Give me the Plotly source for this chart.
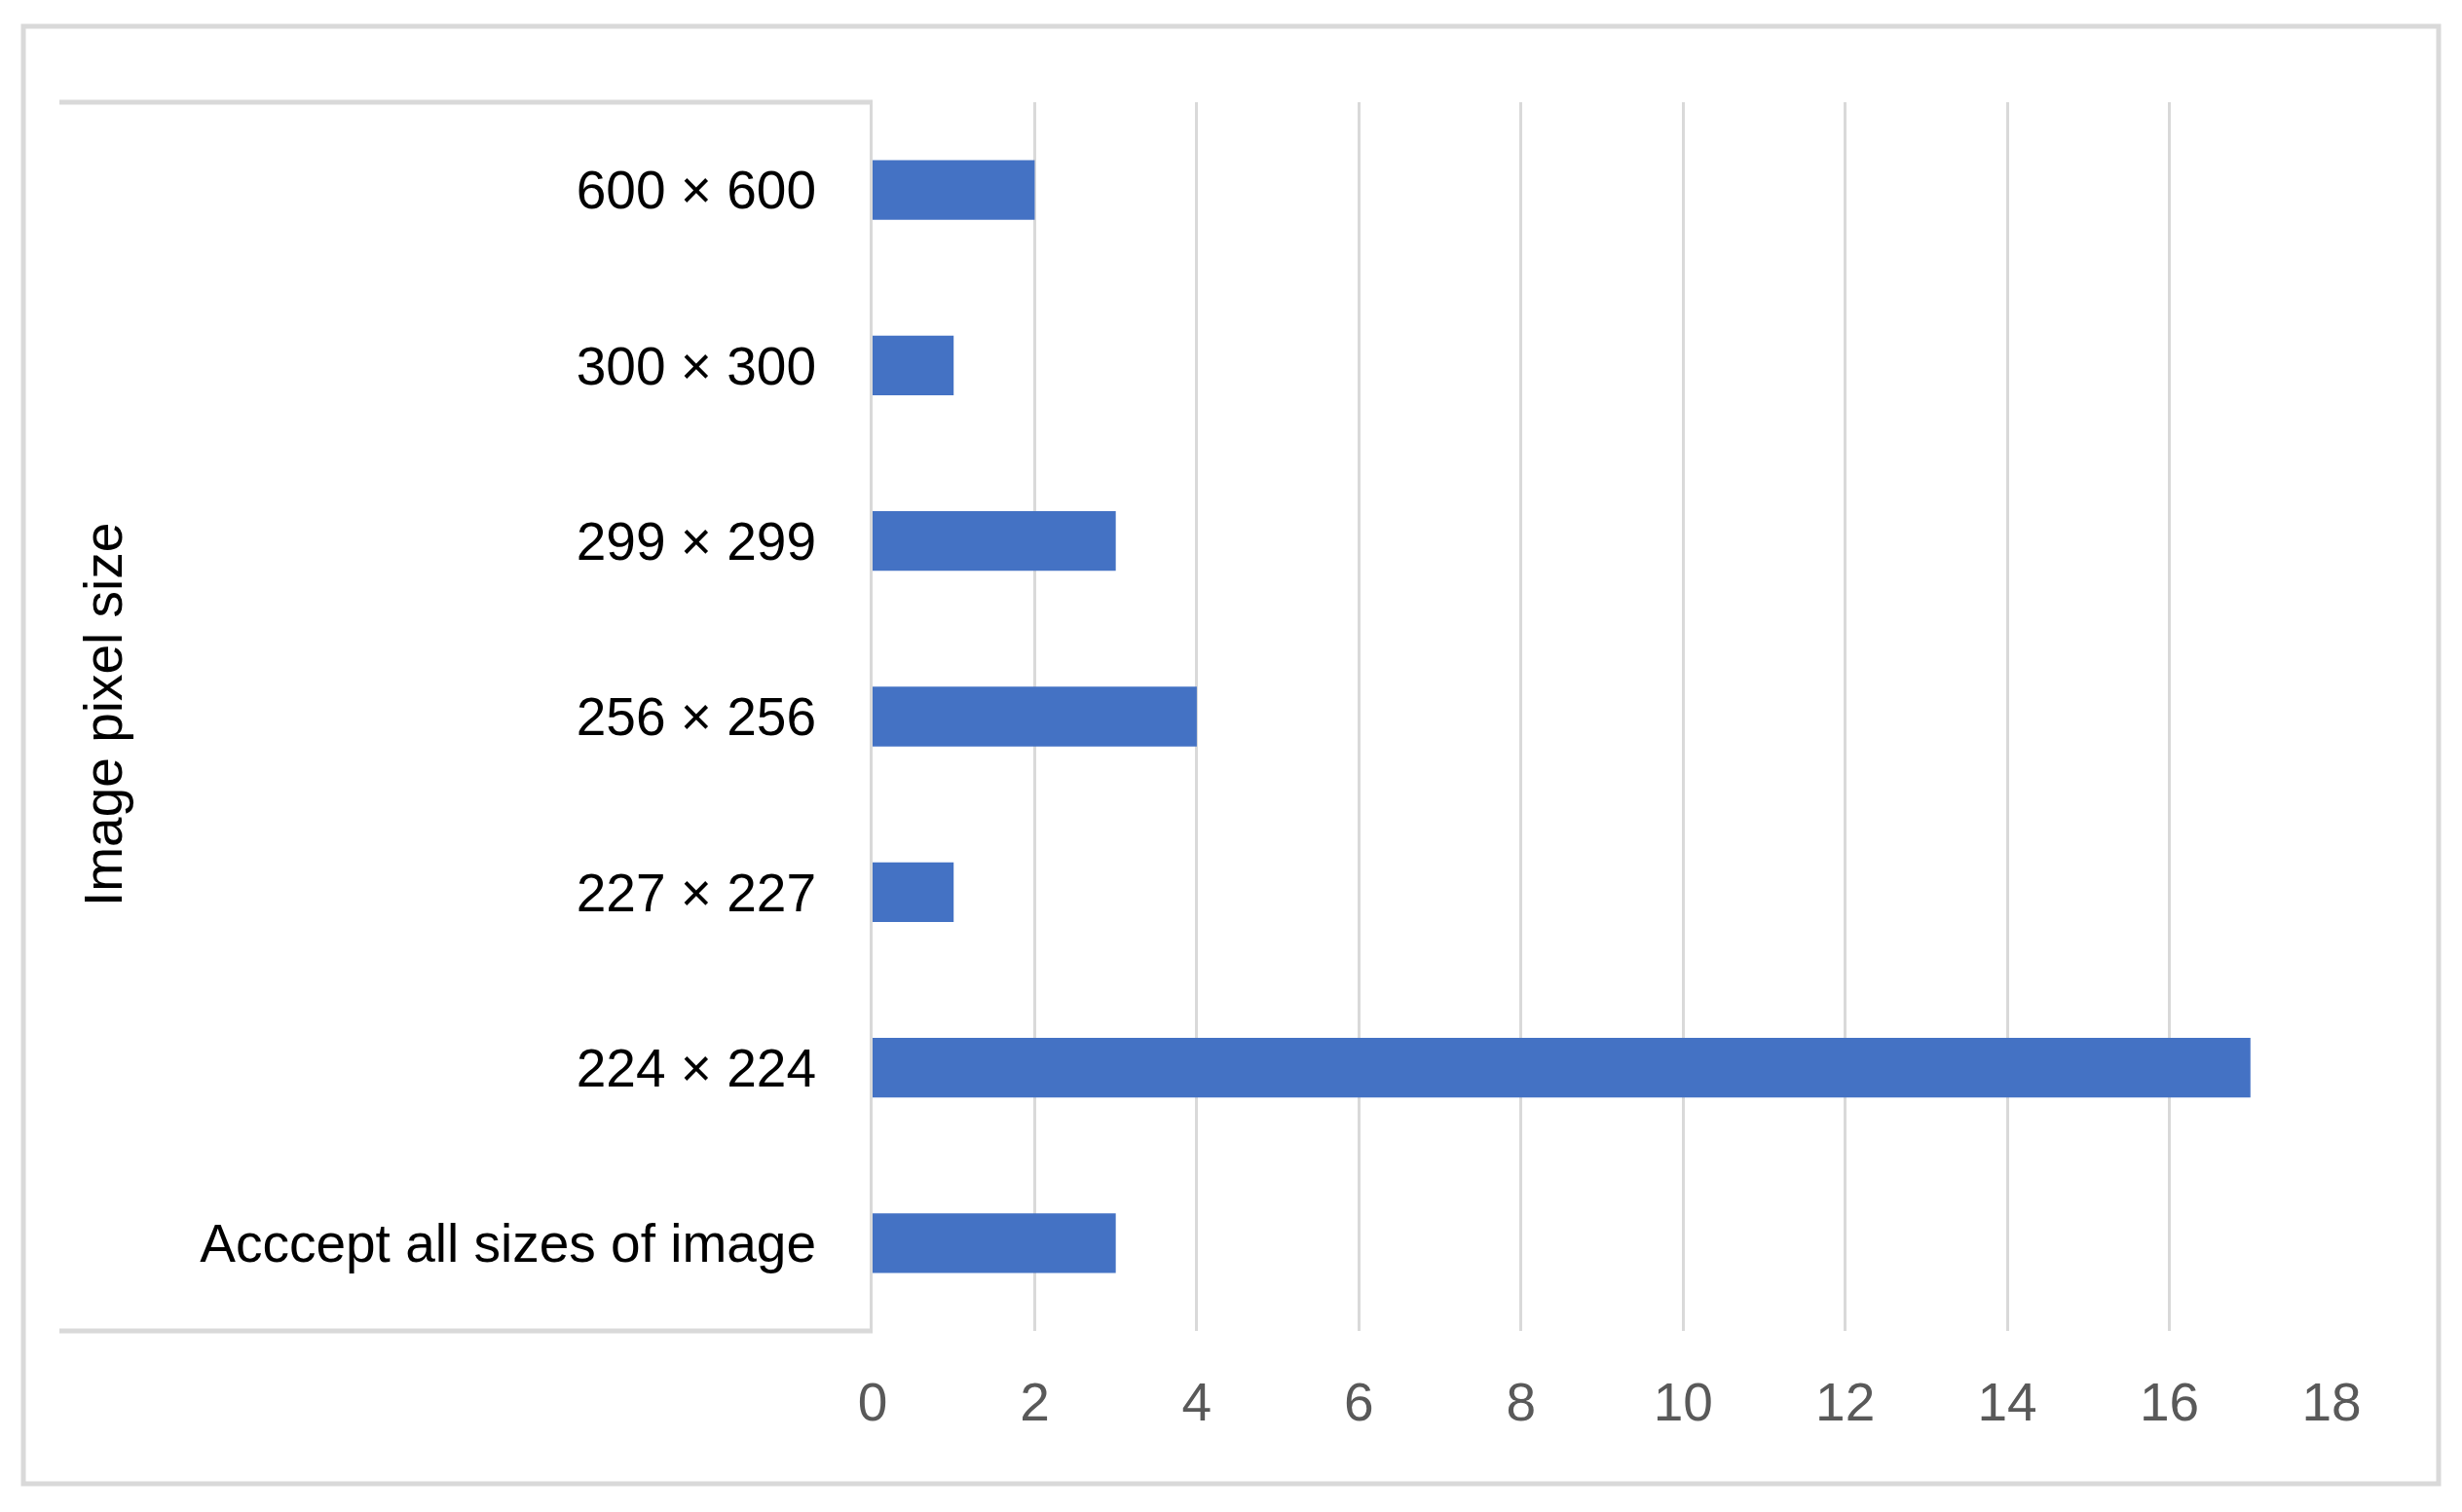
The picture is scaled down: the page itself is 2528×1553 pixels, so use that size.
import plotly.graph_objects as go

# categories listed bottom -> top
sizes = ["Acccept all sizes of image", "224 × 224", "227 × 227", "256 × 256",
         "299 × 299", "300 × 300", "600 × 600"]
counts = [3, 17, 1, 4, 3, 1, 2]
x_ticks = list(range(0, 20, 2))

# page has an 8px body margin, so work in figure coords shifted by 8
OFF = 8
W, H = 2528 - OFF, 1553 - OFF
L, R, T, B = 896 - OFF, 2394 - OFF, 105 - OFF, 1367 - OFF  # plot area
GRID = "#d9d9d9"
FONT = "Liberation Sans, Arial, sans-serif"
FS = 55


def px(x):
    return (x - OFF - L) / (R - L)


def py(y):
    return (B - (y - OFF)) / (B - T)


fig = go.Figure(go.Bar(
    x=counts, y=sizes, orientation="h",
    marker=dict(color="#4472c4", line=dict(width=0)),
))

fig.update_layout(
    width=W, height=H,
    margin=dict(l=L, r=W - R, t=T, b=H - B, autoexpand=False),
    paper_bgcolor="white", plot_bgcolor="white",
    bargap=0.66, showlegend=False,
    font=dict(family=FONT, size=FS, color="#000000"),
)
fig.update_xaxes(
    range=[0, 18], tickvals=x_ticks, showgrid=True, gridcolor=GRID, gridwidth=3,
    zeroline=False, showline=False, ticks="", ticklabelstandoff=36,
    tickfont=dict(color="#595959", size=FS),
)
fig.update_yaxes(
    type="category", categoryorder="array", categoryarray=sizes,
    showgrid=False, zeroline=False, showline=True, linecolor=GRID, linewidth=3,
    ticks="", ticklabelstandoff=44, tickfont=dict(color="#000000", size=FS),
)

# outer chart border
fig.add_shape(type="rect", xref="paper", yref="paper",
              x0=px(24), x1=px(2504), y0=py(1524), y1=py(27),
              line=dict(color=GRID, width=5), fillcolor="rgba(0,0,0,0)", layer="below")
# category table lines
for yy in (105, 1367):
    fig.add_shape(type="line", xref="paper", yref="paper",
                  x0=px(61), x1=0, y0=py(yy), y1=py(yy),
                  line=dict(color=GRID, width=5))

fig.add_annotation(text="Image pixel size", xref="paper", yref="paper",
                   x=px(106), y=py(734), xanchor="center", yanchor="middle",
                   textangle=-90, showarrow=False,
                   font=dict(size=FS, color="#000000"))

fig.write_html("out.html")
